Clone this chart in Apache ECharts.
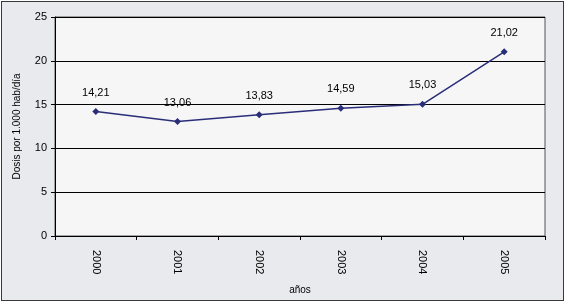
<!DOCTYPE html>
<html>
<head>
<meta charset="utf-8">
<script src="https://cdn.jsdelivr.net/npm/echarts@6/dist/echarts.min.js"></script>
<style>
  html, body { margin: 0; padding: 0; background: #fff; }
  #chart { position: absolute; left: 1px; top: 1px; width: 561px; height: 298px; border: 1px solid #3a3a3a; background: #e8eaed; }
</style>
</head>
<body>
<div id="chart"></div>
<script>
// datos
const years = ['2000', '2001', '2002', '2003', '2004', '2005']
const dosis = [14.21, 13.06, 13.83, 14.59, 15.03, 21.02]
const yTicks = [0, 5, 10, 15, 20, 25]

const myechart = echarts.init(document.getElementById('chart'))
const option = {
  animation: false,
  grid: {
    left: 53,
    right: 18,
    top: 15,
    bottom: 63,
    show: true,
    backgroundColor: '#f6f6f6',
    borderColor: '#555',
    borderWidth: 1
  },
  xAxis: {
    type: 'category',
    data: years,
    boundaryGap: true,
    name: 'años',
    nameLocation: 'middle',
    nameGap: 49,
    nameTextStyle: { fontFamily: 'Liberation Sans', fontSize: 10, color: '#000' },
    axisLine: { lineStyle: { color: '#000', width: 1 } },
    axisTick: { show: true, length: 4, lineStyle: { color: '#000' } },
    axisLabel: {
      rotate: -90,
      margin: 14,
      fontFamily: 'Liberation Sans',
      fontSize: 11,
      color: '#000'
    }
  },
  yAxis: {
    type: 'value',
    min: yTicks[0],
    max: yTicks[yTicks.length - 1],
    interval: 5,
    name: 'Dosis por 1.000 hab/día',
    nameLocation: 'middle',
    nameGap: 33,
    nameTextStyle: { fontFamily: 'Liberation Sans', fontSize: 10, color: '#000' },
    axisLine: { show: true, lineStyle: { color: '#000' } },
    axisTick: { show: true, length: 4, lineStyle: { color: '#000' } },
    axisLabel: { margin: 8, fontFamily: 'Liberation Sans', fontSize: 11, color: '#000' },
    splitLine: { show: true, lineStyle: { color: '#000', width: 1 } }
  },
  series: [{
    type: 'line',
    data: dosis,
    symbol: 'diamond',
    symbolSize: 7,
    lineStyle: { color: '#2a2e78', width: 1.5 },
    itemStyle: { color: '#2a2e78' },
    label: {
      show: true,
      position: 'top',
      distance: 10,
      fontFamily: 'Liberation Sans',
      fontSize: 11,
      color: '#000',
      formatter: p => p.value.toFixed(2).replace('.', ',')
    }
  }]
}
myechart.setOption(option)
</script>
</body>
</html>
